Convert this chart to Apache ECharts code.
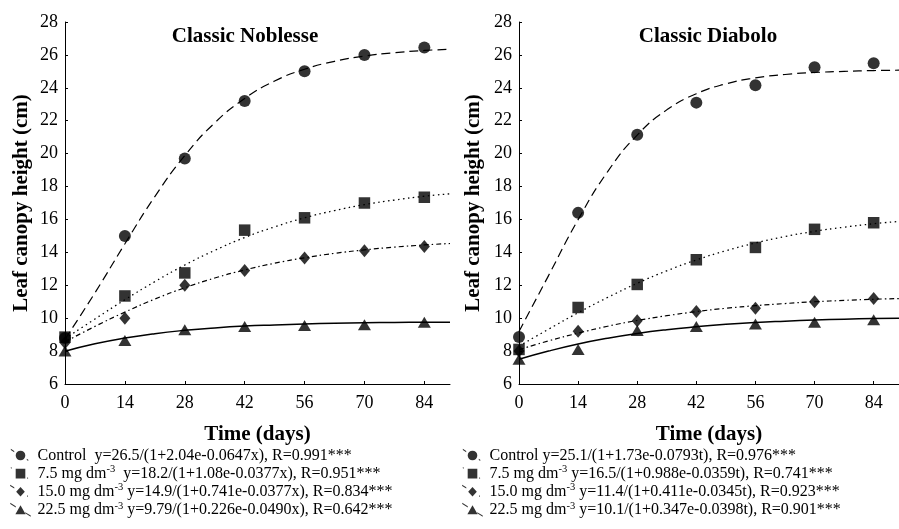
<!DOCTYPE html>
<html>
<head>
<meta charset="utf-8">
<script src="https://cdn.jsdelivr.net/npm/echarts@6/dist/echarts.min.js"></script>
<style>html,body{margin:0;padding:0;background:#fff}#c{width:899px;height:529px}</style>
</head>
<body>
<div id="c"></div>
<script>
// ---- data ----
const days = [0, 14, 28, 42, 56, 70, 84];
const xTicks = [0, 14, 28, 42, 56, 70, 84];
const fitDays = [0, 7, 14, 21, 28, 35, 42, 49, 56, 63, 70, 77, 84, 90];

// Classic Noblesse (measured points)
const nobControl = [8.8, 15.0, 19.7, 23.2, 25.0, 26.0, 26.45];
const nob75 = [8.85, 11.35, 12.75, 15.35, 16.1, 17.0, 17.35];
const nob150 = [8.5, 10.0, 12.0, 12.9, 13.65, 14.1, 14.35];
const nob225 = [8.0, 8.65, 9.3, 9.5, 9.55, 9.6, 9.75];
// Classic Noblesse (fitted curves, read at fitDays)
const nobFitControl = [8.72, 11.54, 14.52, 17.39, 19.88, 21.87, 23.35, 24.41, 25.13, 25.61, 25.93, 26.13, 26.27, 26.34];
const nobFit75 = [8.75, 9.95, 11.12, 12.22, 13.23, 14.12, 14.90, 15.55, 16.10, 16.54, 16.90, 17.18, 17.41, 17.56];
const nobFit150 = [8.56, 9.50, 10.37, 11.16, 11.85, 12.44, 12.93, 13.34, 13.67, 13.94, 14.15, 14.32, 14.45, 14.54];
const nobFit225 = [7.99, 8.44, 8.79, 9.06, 9.26, 9.41, 9.52, 9.59, 9.65, 9.69, 9.72, 9.74, 9.75, 9.76];

// Classic Diabolo (measured points)
const diaControl = [8.85, 16.4, 21.15, 23.1, 24.15, 25.25, 25.5];
const dia75 = [8.1, 10.65, 12.05, 13.55, 14.3, 15.4, 15.8];
const dia150 = [8.0, 9.2, 9.85, 10.4, 10.6, 11.0, 11.2];
const dia225 = [7.5, 8.1, 9.25, 9.5, 9.65, 9.75, 9.9];
// Classic Diabolo (fitted curves, read at fitDays)
const diaFitControl = [9.19, 12.59, 15.99, 18.91, 21.13, 22.66, 23.64, 24.24, 24.60, 24.81, 24.93, 25.00, 25.05, 25.07];
const diaFit75 = [8.30, 9.33, 10.33, 11.26, 12.12, 12.88, 13.54, 14.10, 14.57, 14.96, 15.28, 15.53, 15.74, 15.88];
const diaFit150 = [8.08, 8.62, 9.09, 9.51, 9.86, 10.15, 10.40, 10.60, 10.76, 10.89, 11.00, 11.08, 11.15, 11.19];
const diaFit225 = [7.50, 8.00, 8.43, 8.78, 9.07, 9.30, 9.48, 9.63, 9.74, 9.82, 9.89, 9.94, 9.98, 10.00];

const panelTitles = ['Classic Noblesse', 'Classic Diabolo'];
const nobNames = [
  'Control  y=26.5/(1+2.04e-0.0647x), R=0.991***',
  '7.5 mg dm-3  y=18.2/(1+1.08e-0.0377x), R=0.951***',
  '15.0 mg dm-3 y=14.9/(1+0.741e-0.0377x), R=0.834***',
  '22.5 mg dm-3 y=9.79/(1+0.226e-0.0490x), R=0.642***'
];
const diaNames = [
  'Control y=25.1/(1+1.73e-0.0793t), R=0.976***',
  '7.5 mg dm-3 y=16.5/(1+0.988e-0.0359t), R=0.741***',
  '15.0 mg dm-3 y=11.4/(1+0.411e-0.0345t), R=0.923***',
  '22.5 mg dm-3 y=10.1/(1+0.347e-0.0398t), R=0.901***'
];
const yName = 'Leaf canopy height (cm)';
const xName = 'Time (days)';

// ---- styling ----
const FONT = 'Liberation Serif';
const symbols = ['circle', 'rect', 'diamond', 'triangle'];
const symbolSizes = [12, 11.5, [11, 13], [13, 11]];
const dashes = [[9, 5], [1.5, 3.5], [5, 3, 1.5, 3], 'solid'];
const lineWidths = [1.2, 1.3, 1.2, 1.5];

// legend icon paths (box 24x16)
function seg(t0, t1) {
  const x0 = 24 * t0, x1 = 24 * t1, y0 = 0.5 + 15 * t0, y1 = 0.5 + 15 * t1, h = 0.7;
  return 'M' + x0 + ' ' + (y0 - h) + ' L' + x1 + ' ' + (y1 - h) + ' L' + x1 + ' ' + (y1 + h) + ' L' + x0 + ' ' + (y0 + h) + ' Z ';
}
const markerPaths = [
  'M6.5 8 A5.5 5.5 0 1 0 17.5 8 A5.5 5.5 0 1 0 6.5 8 Z ',
  'M6.5 2.5 L17.5 2.5 L17.5 13.5 L6.5 13.5 Z ',
  'M12 2.5 L17 8 L12 13.5 L7 8 Z ',
  'M12 2.8 L18 13.2 L6 13.2 Z '
];
const segs = [
  [[0.04, 0.2], [0.8, 0.87]],
  [[0.04, 0.08], [0.82, 0.86]],
  [[0.0, 0.2], [0.82, 0.86]],
  [[0.0, 0.27], [0.73, 1.0]]
];
const icons = markerPaths.map((m, i) => 'path://M0 0 M24 16 ' + segs[i].map(s => seg(s[0], s[1])).join('') + m);

function pairs(xs, ys) { return ys.map((v, i) => [xs[i], v]); }

const panels = [
  { pts: [nobControl, nob75, nob150, nob225], fits: [nobFitControl, nobFit75, nobFit150, nobFit225], names: nobNames },
  { pts: [diaControl, dia75, dia150, dia225], fits: [diaFitControl, diaFit75, diaFit150, diaFit225], names: diaNames }
];

const gridLefts = [65, 519];
const series = [];
panels.forEach((p, gi) => {
  p.fits.forEach((f, k) => {
    series.push({
      type: 'line', name: 'fit' + gi + '_' + k, xAxisIndex: gi, yAxisIndex: gi,
      data: pairs(fitDays, f), smooth: true, showSymbol: false, symbol: 'none',
      lineStyle: { color: '#000', width: lineWidths[k], type: dashes[k] }, z: 2, silent: true
    });
  });
  p.pts.forEach((d, k) => {
    series.push({
      type: 'scatter', name: p.names[k], xAxisIndex: gi, yAxisIndex: gi,
      data: pairs(days, d), symbol: symbols[k], symbolSize: symbolSizes[k],
      itemStyle: { color: '#000' }, z: 3
    });
  });
});

function fmt(name) {
  const i = name.indexOf('dm-3');
  if (i < 0) return '{n|' + name + '}{s| }';
  return '{n|' + name.slice(0, i + 2) + '}{s|-3}{n|' + name.slice(i + 4) + '}';
}
const legendRich = {
  n: { fontFamily: FONT, fontSize: 16, color: '#000', lineHeight: 16 },
  s: { fontFamily: FONT, fontSize: 10.5, color: '#000', lineHeight: 8, padding: [0, 0, 8, 0] }
};

const axisCommonX = (gi) => ({
  type: 'value', gridIndex: gi, min: 0, max: 90, interval: 14,
  name: xName, nameLocation: 'middle', nameGap: 40,
  nameTextStyle: { fontFamily: FONT, fontSize: 21, fontWeight: 'bold', color: '#000' },
  axisLine: { lineStyle: { color: '#000', width: 1 } },
  axisTick: { inside: true, length: 3, lineStyle: { color: '#000' }, customValues: xTicks },
  axisLabel: { fontFamily: FONT, fontSize: 18, color: '#000', margin: 10, customValues: xTicks },
  splitLine: { show: false }
});
const axisCommonY = (gi) => ({
  type: 'value', gridIndex: gi, min: 6, max: 28, interval: 2,
  name: yName, nameLocation: 'middle', nameGap: gi === 0 ? 33 : 35,
  nameTextStyle: { fontFamily: FONT, fontSize: 21, fontWeight: 'bold', color: '#000' },
  axisLine: { show: true, lineStyle: { color: '#000', width: 1 } },
  axisTick: { show: true, inside: true, length: 3, lineStyle: { color: '#000' } },
  axisLabel: { fontFamily: FONT, fontSize: 18, color: '#000', margin: 7 },
  splitLine: { show: false }
});

const option = {
  animation: false,
  backgroundColor: '#fff',
  title: [
    { text: panelTitles[0], left: 245, top: 26, textAlign: 'center', padding: 0,
      textStyle: { fontFamily: FONT, fontSize: 21, fontWeight: 'bold', color: '#000' } },
    { text: panelTitles[1], left: 708, top: 26, textAlign: 'center', padding: 0,
      textStyle: { fontFamily: FONT, fontSize: 21, fontWeight: 'bold', color: '#000' } }
  ],
  grid: [
    { left: gridLefts[0], top: 22, width: 385, height: 362 },
    { left: gridLefts[1], top: 22, width: 385, height: 362 }
  ],
  xAxis: [axisCommonX(0), axisCommonX(1)],
  yAxis: [axisCommonY(0), axisCommonY(1)],
  legend: [
    { left: 10, top: 446, orient: 'vertical', padding: 0, itemWidth: 24, itemHeight: 14, itemGap: -0.9,
      selectedMode: false, data: nobNames.map((n, i) => ({ name: n, icon: icons[i] })),
      formatter: fmt, textStyle: { rich: legendRich } },
    { left: 462, top: 446, orient: 'vertical', padding: 0, itemWidth: 24, itemHeight: 14, itemGap: -0.9,
      selectedMode: false, data: diaNames.map((n, i) => ({ name: n, icon: icons[i] })),
      formatter: fmt, textStyle: { rich: legendRich } }
  ],
  series: series
};

const chart = echarts.init(document.getElementById('c'), null, { renderer: 'canvas' });
chart.setOption(option);
</script>
</body>
</html>
